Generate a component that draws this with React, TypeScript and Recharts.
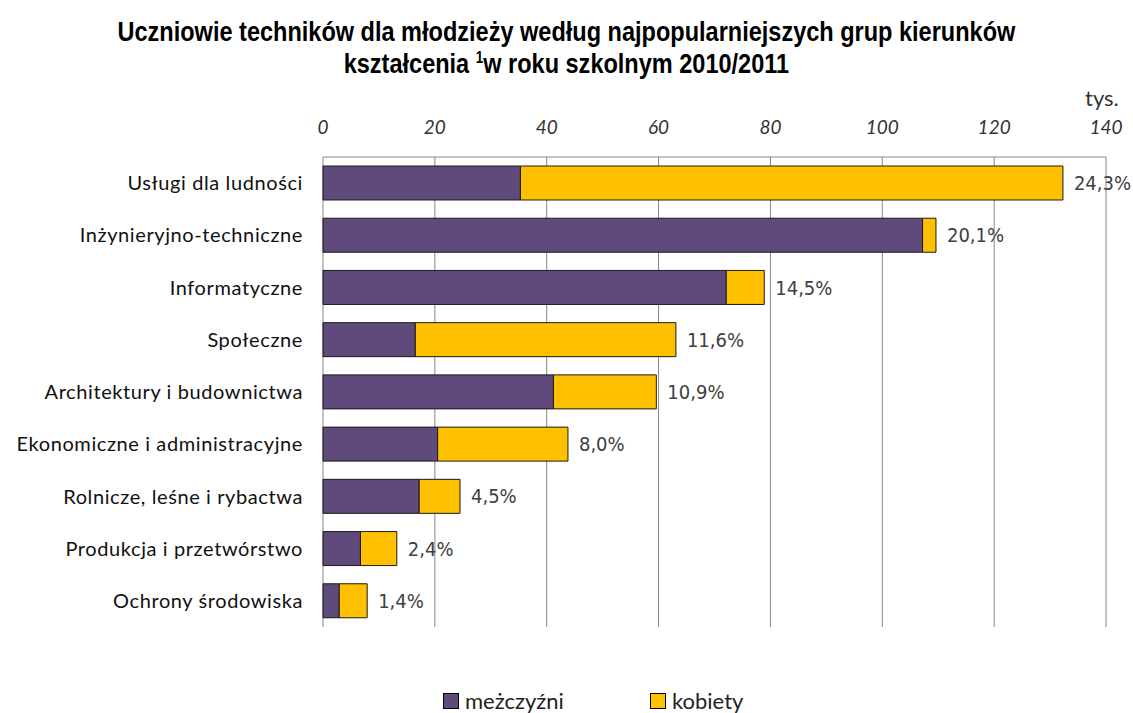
import React from "react";
import {
  BarChart,
  Bar,
  XAxis,
  YAxis,
  CartesianGrid,
  LabelList,
} from "recharts";

// values in thousands
const categories = [
  "Usługi dla ludności",
  "Inżynieryjno-techniczne",
  "Informatyczne",
  "Społeczne",
  "Architektury i budownictwa",
  "Ekonomiczne i administracyjne",
  "Rolnicze, leśne i rybactwa",
  "Produkcja i przetwórstwo",
  "Ochrony środowiska",
];
const men = [35.3, 107.2, 72.1, 16.5, 41.2, 20.5, 17.2, 6.7, 2.9];
const women = [97.0, 2.4, 6.8, 46.6, 18.4, 23.3, 7.3, 6.5, 5.0];
const shares = ["24,3%", "20,1%", "14,5%", "11,6%", "10,9%", "8,0%", "4,5%", "2,4%", "1,4%"];
const xTicks = [0, 20, 40, 60, 80, 100, 120, 140];

const PURPLE = "#604A7B";
const YELLOW = "#FFC000";

const data = categories.map((name, i) => ({
  name,
  men: men[i],
  women: women[i],
  share: shares[i],
}));

const legendItems = [
  { label: "meżczyźni", color: PURPLE, left: 443 },
  { label: "kobiety", color: YELLOW, left: 650 },
];

export default function App() {
  return (
    <div style={{ position: "absolute", left: 0, top: 0, width: 1133, height: 713, background: "#fff", overflow: "hidden" }}>
      <div
        style={{
          position: "absolute",
          left: 0,
          top: 16,
          width: 1133,
          textAlign: "center",
          fontFamily: "'Liberation Sans', sans-serif",
          fontWeight: "bold",
          fontSize: 28,
          lineHeight: "32px",
          color: "#000",
          transform: "scaleX(0.84)",
          transformOrigin: "566px 0",
        }}
      >
        Uczniowie techników dla młodzieży według najpopularniejszych grup kierunków
        <br />
        kształcenia <sup style={{ fontSize: 16, lineHeight: 0 }}>1</sup>w roku szkolnym 2010/2011
      </div>
      <div
        style={{
          position: "absolute",
          left: 1085,
          top: 84,
          fontFamily: "Lato, sans-serif",
          fontSize: 22,
          color: "#333",
        }}
      >
        tys.
      </div>
      <BarChart
        width={1133}
        height={713}
        data={data}
        layout="vertical"
        margin={{ top: 117, right: 27, bottom: 86, left: 13 }}
        barSize={34}
      >
        <CartesianGrid
          stroke="#868686"
          horizontalCoordinatesGenerator={({ offset }: any) => [offset.top]}
        />
        <XAxis
          type="number"
          orientation="top"
          domain={[0, 140]}
          ticks={xTicks}
          height={40}
          axisLine={false}
          tickLine={false}
          tickMargin={17}
          tick={{ fontFamily: "Lato, sans-serif", fontStyle: "italic", fontSize: 19, fill: "#333" }}
        />
        <YAxis
          type="category"
          dataKey="name"
          width={310}
          axisLine={false}
          tickLine={false}
          tickMargin={14}
          tick={{ fontFamily: "Lato, sans-serif", fontSize: 20, letterSpacing: 0.6, fill: "#111" }}
        />
        <Bar dataKey="men" stackId="a" fill={PURPLE} stroke="#1a1a1a" strokeWidth={1} isAnimationActive={false} />
        <Bar dataKey="women" stackId="a" fill={YELLOW} stroke="#1a1a1a" strokeWidth={1} isAnimationActive={false}>
          <LabelList
            dataKey="share"
            position="right"
            offset={11}
            style={{ fontFamily: "'DejaVu Sans Condensed', 'Liberation Sans', sans-serif", fontStretch: "condensed", fontSize: 20, fill: "#404040" }}
          />
        </Bar>
      </BarChart>
      {legendItems.map((it) => (
        <div
          key={it.label}
          style={{
            position: "absolute",
            left: it.left,
            top: 687,
            display: "flex",
            alignItems: "center",
            fontFamily: "Lato, sans-serif",
            fontSize: 22,
            color: "#222",
          }}
        >
          <span
            style={{
              display: "inline-block",
              width: 14,
              height: 14,
              background: it.color,
              border: "1px solid #000",
              marginRight: 6,
            }}
          />
          {it.label}
        </div>
      ))}
    </div>
  );
}
